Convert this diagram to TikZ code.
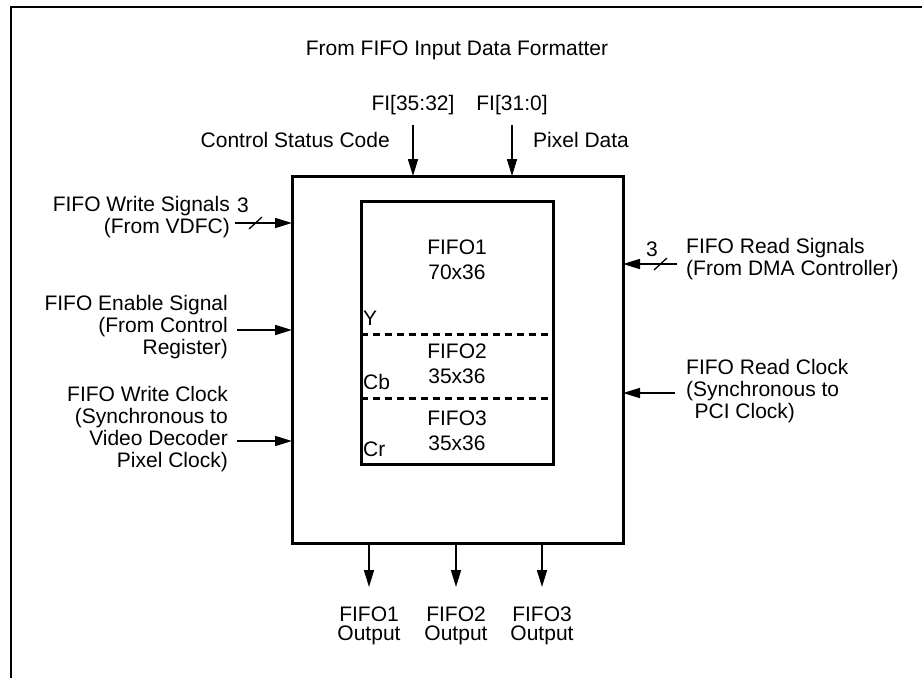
\documentclass[tikz,border=0pt]{standalone}
\usepackage{fontspec}
\setmainfont{Liberation Sans}
\usetikzlibrary{arrows.meta}
\begin{document}
\begin{tikzpicture}[x=1pt,y=-1pt,
  txt/.style={inner sep=0pt, font=\fontsize{21}{22}\selectfont},
  intxt/.style={inner sep=0pt, align=center, font=\fontsize{21}{24.5}\selectfont},
  outtxt/.style={inner sep=0pt, align=center, font=\fontsize{21}{19}\selectfont},
  arr/.style={line width=1.6pt, -{Triangle[length=17pt,width=10pt]}},
  box/.style={draw, line width=3pt, inner sep=0pt, outer sep=0pt},
  dashline/.style={line width=3pt, dash pattern=on 7pt off 5pt},
  slash/.style={line width=1.3pt},
  frame/.style={line width=2pt}]
\useasboundingbox (0,0) rectangle (922,678);
% frame
\coordinate (fa) at (11,678); \coordinate (fb) at (11,7); \coordinate (fc) at (922,7);
\draw[frame] (fa) -- (fb) -- (fc);

% boxes
\node[box, minimum width=331pt, minimum height=367pt] (fifo) at (457.5,359.5) {};
\node[box, minimum width=192pt, minimum height=263pt] (mem) at (457,332.5) {};

% dashed separators
\coordinate (d1) at (0,334); \coordinate (d2) at (0,398);
\coordinate (e1) at (555,334); \coordinate (e2) at (555,398);
\draw[dashline] (mem.west |- d1) -- (e1);
\draw[dashline] (mem.west |- d2) -- (e2);

% inner texts
\node[intxt] (f1) at (457,260) {FIFO1\\70x36};
\node[intxt] (f2) at (457,364) {FIFO2\\35x36};
\node[intxt] (f3) at (457,431) {FIFO3\\35x36};
\node[txt, anchor=west] (ly) at (363,318) {Y};
\node[txt, anchor=west] (lcb) at (363,382) {Cb};
\node[txt, anchor=west] (lcr) at (363,449) {Cr};

% title and top inputs
\node[txt] (title) at (457,50) {From FIFO Input Data Formatter};
\node[txt] (fi1) at (413,105) {FI[35:32]};
\node[txt] (fi2) at (512,105) {FI[31:0]};
\node[txt, anchor=east] (csc) at (390,140) {Control Status Code};
\node[txt, anchor=west] (pd) at (533,140) {Pixel Data};
\coordinate (t1) at (413,125); \coordinate (t2) at (512,125);
\draw[arr] (t1) -- (t1 |- fifo.north);
\draw[arr] (t2) -- (t2 |- fifo.north);

% left inputs
\node[txt, anchor=east, align=right] (lw) at (230,217) {FIFO Write Signals\\(From VDFC)};
\node[txt, anchor=east, align=right] (le) at (228,327) {FIFO Enable Signal\\(From Control\\Register)};
\node[txt, anchor=east, align=right] (lc) at (228,429) {FIFO Write Clock\\(Synchronous to\\Video Decoder\\Pixel Clock)};
\coordinate (w1) at (235,223); \coordinate (w2) at (237,330); \coordinate (w3) at (237,441);
\draw[arr] (w1) -- (w1 -| fifo.west);
\draw[arr] (w2) -- (w2 -| fifo.west);
\draw[arr] (w3) -- (w3 -| fifo.west);
\coordinate (s1a) at (249,229); \coordinate (s1b) at (262,217);
\draw[slash] (s1a) -- (s1b);
\node[txt] (n3l) at (243,205) {3};

% right inputs
\node[txt, anchor=west, align=left] (rr) at (686,259) {FIFO Read Signals\\(From DMA Controller)};
\node[txt, anchor=west, align=left] (rc) at (686,391) {FIFO Read Clock\\(Synchronous to\\\hspace*{0.4em}PCI Clock)};
\coordinate (r1) at (677,264); \coordinate (r2) at (675,393);
\draw[arr] (r1) -- (r1 -| fifo.east);
\draw[arr] (r2) -- (r2 -| fifo.east);
\coordinate (s2a) at (654,270); \coordinate (s2b) at (667,258);
\draw[slash] (s2a) -- (s2b);
\node[txt] (n3r) at (652,249) {3};

% outputs
\coordinate (o1) at (369,587); \coordinate (o2) at (456,587); \coordinate (o3) at (542,587);
\draw[arr] (o1 |- fifo.south) -- (o1);
\draw[arr] (o2 |- fifo.south) -- (o2);
\draw[arr] (o3 |- fifo.south) -- (o3);
\node[outtxt] (out1) at (369,626) {FIFO1\\Output};
\node[outtxt] (out2) at (456,626) {FIFO2\\Output};
\node[outtxt] (out3) at (542,626) {FIFO3\\Output};
\end{tikzpicture}
\end{document}
